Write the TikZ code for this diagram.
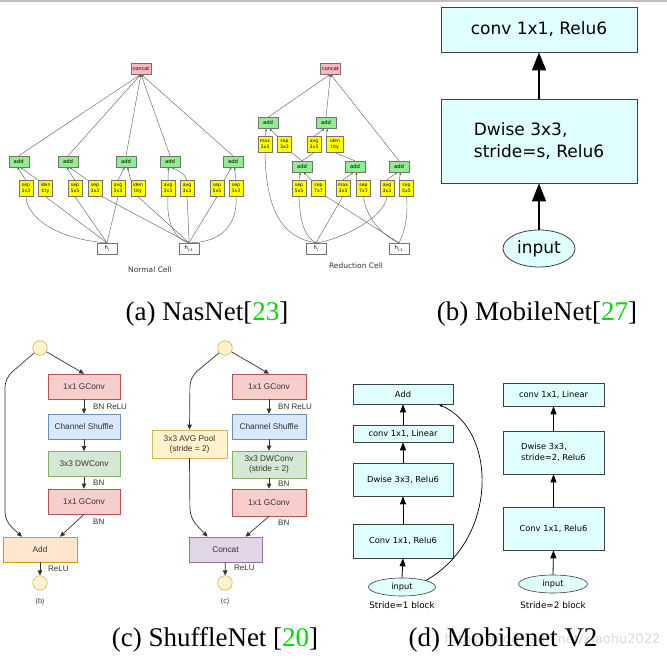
\documentclass[tikz,border=0pt]{standalone}
\usepackage{fontspec}
\setmainfont{Liberation Serif}
\newfontfamily\dejavu{DejaVu Sans}
\newfontfamily\helv{Liberation Sans}
\usetikzlibrary{arrows.meta,shapes.geometric}
\pgfdeclarelayer{bg}
\pgfsetlayers{bg,main}
\definecolor{mcyan}{HTML}{E0FFFF}
\definecolor{nasgreen}{HTML}{90EE90}
\definecolor{naspink}{HTML}{FFB6C1}
\definecolor{nasyellow}{HTML}{FFFF00}
\definecolor{redf}{HTML}{F8CECC}\definecolor{redd}{HTML}{B85450}
\definecolor{bluef}{HTML}{DAE8FC}\definecolor{blued}{HTML}{6C8EBF}
\definecolor{greenf}{HTML}{D5E8D4}\definecolor{greend}{HTML}{82B366}
\definecolor{orf}{HTML}{FFE6CC}\definecolor{ord}{HTML}{D79B00}
\definecolor{yelf}{HTML}{FFF2CC}\definecolor{yeld}{HTML}{D6B656}
\definecolor{purf}{HTML}{E1D5E7}\definecolor{purd}{HTML}{9673A6}
\definecolor{citeg}{HTML}{00DD00}
\tikzset{
 nop/.style={draw=black!55, fill=nasyellow, minimum width=14pt, minimum height=16pt, inner sep=0pt, align=center, line width=0.4pt, font=\dejavu\fontsize{4.6}{5.6}\selectfont},
 nadd/.style={draw=black!55, fill=nasgreen, minimum width=20pt, minimum height=11pt, inner sep=0pt, line width=0.4pt, font=\dejavu\fontsize{5.3}{6}\selectfont},
 ncat/.style={nadd, fill=naspink, font=\dejavu\fontsize{5}{6}\selectfont},
 nh/.style={nadd, fill=white},
 ne/.style={draw=black!60, line width=0.45pt},
 na/.style={ne, -{Latex[length=2.6pt,width=2.2pt]}},
 ncap/.style={font=\dejavu\fontsize{7.5}{9}\selectfont, text=black!80},
 mb/.style={draw=black!75, fill=mcyan, line width=0.8pt, minimum width=196pt, inner sep=0pt, font=\dejavu\fontsize{17}{22}\selectfont},
 ma/.style={line width=1.6pt, -{Triangle[length=18pt,width=14pt]}},
 vb/.style={draw=black!75, fill=mcyan, line width=0.6pt, minimum width=100pt, inner sep=0pt, align=left, font=\dejavu\fontsize{8.3}{11}\selectfont},
 va/.style={line width=0.8pt, -{Triangle[length=8pt,width=6pt]}},
 vcap/.style={font=\dejavu\fontsize{8.8}{10}\selectfont},
 sb/.style={minimum width=72pt, minimum height=25pt, inner sep=0pt, align=center, line width=0.6pt, text=black!80, font=\helv\fontsize{8.3}{10}\selectfont},
 sr/.style={sb, draw=redd, fill=redf},
 sbl/.style={sb, draw=blued, fill=bluef},
 sg/.style={sb, draw=greend, fill=greenf},
 so/.style={sb, draw=ord, fill=orf},
 sy/.style={sb, draw=yeld, fill=yelf},
 sp/.style={sb, draw=purd, fill=purf},
 sc/.style={circle, draw=yeld, fill=yelf, minimum size=14.5pt, inner sep=0pt, line width=0.6pt},
 sa/.style={draw=black!80, line width=0.7pt, -{Triangle[length=5pt,width=4.5pt]}, rounded corners=9pt},
 slbl/.style={font=\helv\fontsize{8}{9}\selectfont, text=black!80, anchor=west, inner sep=0pt},
 captext/.style={font=\fontsize{27}{30}\selectfont, inner sep=0pt},
}
\begin{document}
\begin{tikzpicture}[x=1pt,y=-1pt]
\useasboundingbox (0,0) rectangle (667,660);
\begin{pgfonlayer}{bg}
\fill[white] (0,0) rectangle (667,660);
\end{pgfonlayer}
\draw[black!25, line width=1.5pt] (0,0.8) -- (667,0.8);

% ================= (a) NasNet normal cell
\node[ncat] (concatN) at (141,68.5) {concat};
\node[nadd] (addN1) at (18.7,161.5) {add};
\node[nadd] (addN2) at (68,161.5) {add};
\node[nadd] (addN3) at (126,161.5) {add};
\node[nadd] (addN4) at (170,161.5) {add};
\node[nadd] (addN5) at (233,161.5) {add};
\node[nop] (N1) at (26,188.5) {sep\\3x3};
\node[nop] (N2) at (45.5,188.5) {iden\\tity};
\node[nop] (N3) at (75,188.5) {sep\\5x5};
\node[nop] (N4) at (95,188.5) {sep\\3x3};
\node[nop] (N5) at (118,188.5) {avg\\3x3};
\node[nop] (N6) at (138,188.5) {iden\\tity};
\node[nop] (N7) at (168,188.5) {avg\\3x3};
\node[nop] (N8) at (187,188.5) {avg\\3x3};
\node[nop] (N9) at (217,188.5) {sep\\5x5};
\node[nop] (N10) at (236,188.5) {sep\\3x3};
\node[nh] (hNi) at (107,248.5) {h\textsubscript{i}};
\node[nh] (hNj) at (189,248.5) {h\textsubscript{i-1}};
\node[ncap] (capN) at (150,270) {Normal Cell};

\begin{pgfonlayer}{bg}
\foreach \n in {addN1,addN2,addN3,addN4,addN5} \draw[na] (\n.north) -- (concatN.south);
\draw[na] (N1.north) -- ([xshift=-1.5pt]addN1.south);
\draw[na] (N2.north west) -- ([xshift=1.5pt]addN1.south);
\draw[na] (N3.north) -- ([xshift=-1.5pt]addN2.south);
\draw[na] (N4.north west) -- ([xshift=1.5pt]addN2.south);
\draw[na] (N5.north) -- ([xshift=-1.5pt]addN3.south);
\draw[na] (N6.north west) -- ([xshift=1.5pt]addN3.south);
\draw[na] (N7.north) -- ([xshift=-1.5pt]addN4.south);
\draw[na] (N8.north) .. controls (184,174) .. ([xshift=1.5pt]addN4.south);
\draw[na] (N9.north east) -- ([xshift=-1.5pt]addN5.south);
\draw[na] (N10.north) -- ([xshift=1.5pt]addN5.south);
\draw[ne] (N1.south) .. controls (27,220) and (62,240) .. (hNi.north);
\draw[ne] (N2.south) -- (hNi.north);
\draw[ne] (N3.south) -- (hNi.north);
\draw[ne] (N4.south east) -- (hNj.north);
\draw[ne] (N5.south) -- (hNi.north);
\draw[ne] (N6.south) -- (hNj.north);
\draw[ne] (N7.south) .. controls (166,225) and (176,240) .. (hNj.north);
\draw[ne] (N8.south) .. controls (188,215) .. (hNj.north);
\draw[ne] (N9.south) -- (hNj.north);
\draw[ne] (N10.south) .. controls (238,230) and (215,243) .. (hNj.north);
\end{pgfonlayer}

% ================= (a) NasNet reduction cell
\node[ncat] (concatR) at (330.5,68.5) {concat};
\node[nadd] (addRA) at (268,123) {add};
\node[nadd] (addRB) at (326,123) {add};
\node[nop] (RA1) at (265,144.5) {max\\3x3};
\node[nop] (RA2) at (284.5,144.5) {sep\\3x3};
\node[nop] (RB1) at (314,144.5) {avg\\3x3};
\node[nop, minimum width=17pt] (RB2) at (335,144.5) {iden\\tity};
\node[nadd] (addRC) at (302,166.5) {add};
\node[nadd] (addRD) at (355,166.5) {add};
\node[nadd] (addRE) at (399,166.5) {add};
\node[nop] (RC1) at (299,188) {sep\\5x5};
\node[nop] (RC2) at (318.5,188) {sep\\7x7};
\node[nop] (RD1) at (343,188) {max\\3x3};
\node[nop] (RD2) at (363.5,188) {sep\\7x7};
\node[nop] (RE1) at (387,188) {avg\\3x3};
\node[nop] (RE2) at (406.5,188) {sep\\5x5};
\node[nh] (hRi) at (316,248.5) {h\textsubscript{i}};
\node[nh] (hRj) at (399,248.5) {h\textsubscript{i-1}};
\node[ncap] (capR) at (356,266) {Reduction Cell};

\begin{pgfonlayer}{bg}
\foreach \n in {addRA,addRB,addRE} \draw[na] (\n.north) -- (concatR.south);
\draw[na] (RA1.north) -- ([xshift=-1.5pt]addRA.south);
\draw[na] (RA2.north west) -- ([xshift=1.5pt]addRA.south);
\draw[na] (RB1.north) -- ([xshift=-1.5pt]addRB.south);
\draw[na] (RB2.north west) -- ([xshift=1.5pt]addRB.south);
\draw[na] (RC1.north) -- ([xshift=-1.5pt]addRC.south);
\draw[na] (RC2.north west) -- ([xshift=1.5pt]addRC.south);
\draw[na] (RD1.north) -- ([xshift=-1.5pt]addRD.south);
\draw[na] (RD2.north west) -- ([xshift=1.5pt]addRD.south);
\draw[na] (RE1.north) -- ([xshift=-1.5pt]addRE.south);
\draw[na] (RE2.north west) -- ([xshift=1.5pt]addRE.south);
\draw[ne] (RA1.south) .. controls (266,215) and (285,238) .. (hRi.north);
\draw[ne] (RA2.south east) -- (addRC.north);
\draw[ne] (RB1.south) -- (addRC.north);
\draw[ne] (RB2.south) -- (addRD.north);
\draw[ne] (RC1.south) .. controls (300,225) and (306,238) .. (hRi.north);
\draw[ne] (RC2.south east) -- (hRj.north);
\draw[ne] (RD1.south) -- (hRi.north);
\draw[ne] (RD2.south) .. controls (366,220) and (386,238) .. (hRj.north);
\draw[ne] (RE1.south) .. controls (385,218) and (340,240) .. (hRi.north);
\draw[ne] (RE2.south) .. controls (409,220) and (402,238) .. (hRj.north);
\end{pgfonlayer}

\node[captext] (capa) at (207,314) {(a) NasNet[\textcolor{citeg}{23}]};

% ================= (b) MobileNet
\node[mb, minimum height=45pt] (mb1) at (539,29.5) {conv 1x1, Relu6};
\node[mb, minimum height=84pt, align=left] (mb2) at (539,141) {Dwise 3x3,\\stride=s, Relu6};
\node[ellipse, draw=black!75, fill=mcyan, line width=0.8pt, minimum width=72pt, minimum height=37pt, inner sep=0pt, font=\dejavu\fontsize{17}{20}\selectfont] (mbin) at (539,248.5) {input};
\draw[ma] (mbin.north) -- (mb2.south);
\draw[ma] (mb2.north) -- (mb1.south);
\node[captext] (capb) at (537,314) {(b) MobileNet[\textcolor{citeg}{27}]};

% ================= (c) ShuffleNet unit (b)
\node[sc] (topB) at (40,348) {};
\node[sr] (g1B) at (84,386.5) {1x1 GConv};
\node[sbl] (shB) at (84,426.5) {Channel Shuffle};
\node[sg] (dwB) at (84,464) {3x3 DWConv};
\node[sr] (g2B) at (84,501.5) {1x1 GConv};
\node[so, minimum width=74pt] (addB) at (40,549.5) {Add};
\node[sc] (botB) at (40,583) {};
\node[slbl] (lb1) at (93,406.5) {BN ReLU};
\node[slbl] (lb2) at (93,483) {BN};
\node[slbl] (lb3) at (93,522) {BN};
\node[slbl] (lb4) at (48,568.5) {ReLU};
\node[font=\helv\fontsize{7}{8}\selectfont, text=black!80] (cb) at (40,602) {(b)};
\draw[sa] (topB) -- (g1B.north);
\draw[sa] (topB) -- (5,378) -- (5,521) -- ([xshift=-18pt]addB.north);
\draw[sa] (g1B) -- (shB);
\draw[sa] (shB) -- (dwB);
\draw[sa] (dwB) -- (g2B);
\draw[sa] (g2B.south) -- ([xshift=20pt]addB.north);
\draw[sa] (addB) -- (botB);

% ================= (c) ShuffleNet unit (c)
\node[sc] (topC) at (225,348) {};
\node[sr, minimum width=74pt] (g1C) at (269,386.5) {1x1 GConv};
\node[sbl, minimum width=74pt] (shC) at (269,426.5) {Channel Shuffle};
\node[sg, minimum width=74pt, minimum height=27pt] (dwC) at (269,464.5) {3x3 DWConv\\(stride = 2)};
\node[sr, minimum width=74pt, minimum height=27pt] (g2C) at (269,502.5) {1x1 GConv};
\node[sy, minimum width=75pt, minimum height=28pt] (poolC) at (189.5,444) {3x3 AVG Pool\\(stride = 2)};
\node[sp, minimum width=73pt] (catC) at (225.5,549.5) {Concat};
\node[sc] (botC) at (225,583) {};
\node[slbl] (lc1) at (278,406.5) {BN ReLU};
\node[slbl] (lc2) at (278,483.5) {BN};
\node[slbl] (lc3) at (278,523) {BN};
\node[slbl] (lc4) at (234,568) {ReLU};
\node[font=\helv\fontsize{7}{8}\selectfont, text=black!80] (cc) at (225,602) {(c)};
\draw[sa] (topC) -- (g1C.north);
\draw[sa] (topC) -- (190,377) -- (poolC.north);
\draw[sa] (poolC.south) -- (190,518) -- ([xshift=-18pt]catC.north);
\draw[sa] (g1C) -- (shC);
\draw[sa] (shC) -- (dwC);
\draw[sa] (dwC) -- (g2C);
\draw[sa] (g2C.south) -- ([xshift=20pt]catC.north);
\draw[sa] (catC) -- (botC);

\node[captext] (capc) at (215,640) {(c) ShuffleNet [\textcolor{citeg}{20}]};

% ================= (d) MobileNet V2
\node[vb, minimum height=20pt] (addV) at (403,394) {Add};
\node[vb, minimum height=17pt] (cl1) at (403,433.5) {conv 1x1, Linear};
\node[vb, minimum height=33pt] (dwL) at (403,479.5) {Dwise 3x3, Relu6};
\node[vb, minimum height=34pt] (cl2) at (403,541) {Conv 1x1, Relu6};
\node[ellipse, draw=black!75, fill=mcyan, line width=0.6pt, minimum width=67pt, minimum height=18pt, inner sep=0pt, font=\dejavu\fontsize{8.3}{10}\selectfont] (inL) at (402,587) {input};
\node[vcap] (sl) at (402,605) {Stride=1 block};
\draw[va] (inL.north) -- (cl2.south);
\draw[va] (cl2) -- (dwL);
\draw[va] (dwL) -- (cl1);
\draw[va] (cl1) -- (addV);
\draw[line width=0.7pt, -{Latex[length=4pt,width=3pt]}] (inL.north east) .. controls (498,540) and (498,430) .. ([xshift=-15pt]addV.south east);

\node[vb, minimum width=101pt, minimum height=23pt] (cr1) at (553.5,394.5) {conv 1x1, Linear};
\node[vb, minimum width=101pt, minimum height=43pt] (dwR) at (553.5,452.5) {Dwise 3x3,\\stride=2, Relu6};
\node[vb, minimum width=101pt, minimum height=43pt] (cr2) at (553.5,528.5) {Conv 1x1, Relu6};
\node[ellipse, draw=black!75, fill=mcyan, line width=0.6pt, minimum width=69pt, minimum height=18pt, inner sep=0pt, font=\dejavu\fontsize{8.3}{10}\selectfont] (inR) at (553,584) {input};
\node[vcap] (sr2) at (553,605) {Stride=2 block};
\draw[va] (inR.north) -- (cr2.south);
\draw[va] (cr2) -- (dwR);
\draw[va] (dwR) -- (cr1);

\begin{pgfonlayer}{bg}
\node[font=\dejavu\fontsize{13}{14}\selectfont, text=black!14, anchor=east] (wm) at (664,640) {https://blog.csdn.net/xiaohu2022};
\end{pgfonlayer}
\node[captext] (capd) at (503,640) {(d) Mobilenet V2};
\end{tikzpicture}
\end{document}
